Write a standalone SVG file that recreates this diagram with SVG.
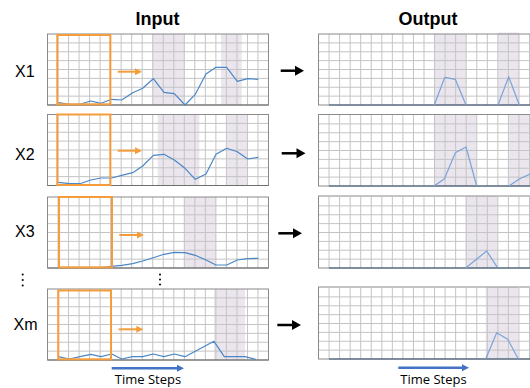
<svg xmlns="http://www.w3.org/2000/svg" width="530" height="388" viewBox="0 0 530 388">
  <style>
    .title { font-family: "Liberation Sans", Arial, sans-serif; font-weight: bold; font-size: 18px; fill: #000; text-anchor: middle; }
    .lbl { font-family: "Liberation Sans", Arial, sans-serif; font-size: 16px; fill: #000; }
    .axis { font-family: "Open Sans", "Liberation Sans", sans-serif; font-size: 13px; fill: #000; text-anchor: middle; }
    .bg { fill: #ffffff; }
    .shade { fill: #ebe5ee; }
    .grid { fill: none; stroke: #c4c4c4; stroke-width: 1; }
    .frame { fill: none; stroke: #8a8a8a; stroke-width: 1; }
    .base { fill: none; stroke: #6e6e6e; stroke-width: 1.2; }
    .seriesIn { fill: none; stroke: #4a87c6; stroke-width: 1.2; stroke-linejoin: round; }
    .seriesOut { fill: none; stroke: #7ba4d8; stroke-width: 1.2; stroke-linejoin: round; }
    .zero { fill: none; stroke: #3a5675; stroke-width: 1; }
    .win { fill: none; stroke: #f59c3b; stroke-width: 2; }
    .slide { stroke: #f59c3b; stroke-width: 2; fill: none; }
    .slideHead { fill: #f59c3b; }
    .flow { stroke: #000; stroke-width: 2.5; fill: none; }
    .flowHead { fill: #000; }
    .time { stroke: #4472c4; stroke-width: 2.5; fill: none; }
    .timeHead { fill: #4472c4; }
  </style>
  <defs>
    <!-- 21 x 8 chart grid, input width -->
    <path id="gridIn" class="grid" d="M10.52 0V71M21.05 0V71M31.57 0V71M42.1 0V71M52.62 0V71M63.14 0V71M73.67 0V71M84.19 0V71M94.71 0V71M105.24 0V71M115.76 0V71M126.29 0V71M136.81 0V71M147.33 0V71M157.86 0V71M168.38 0V71M178.9 0V71M189.43 0V71M199.95 0V71M210.48 0V71M0 8.88H221M0 17.75H221M0 26.63H221M0 35.5H221M0 44.38H221M0 53.25H221M0 62.13H221"/>
    <!-- chart grid, output width (runs past the right edge) -->
    <path id="gridOut" class="grid" d="M10.55 0V71M21.1 0V71M31.65 0V71M42.2 0V71M52.75 0V71M63.3 0V71M73.85 0V71M84.4 0V71M94.95 0V71M105.5 0V71M116.05 0V71M126.6 0V71M137.15 0V71M147.7 0V71M158.25 0V71M168.8 0V71M179.35 0V71M189.9 0V71M200.45 0V71M211 0V71M0 8.88H230M0 17.75H230M0 26.63H230M0 35.5H230M0 44.38H230M0 53.25H230M0 62.13H230"/>
  </defs>

  <rect width="530" height="388" fill="#ffffff"/>

  <text class="title" x="157.5" y="25">Input</text>
  <text class="title" x="428" y="25">Output</text>

  <!-- row labels -->
  <g id="labels">
    <text class="lbl" x="15" y="77">X1</text>
    <text class="lbl" x="15" y="160">X2</text>
    <text class="lbl" x="15" y="237">X3</text>
    <g fill="#000">
      <circle cx="22.7" cy="274.5" r="1"/>
      <circle cx="22.7" cy="280" r="1"/>
      <circle cx="22.7" cy="285.5" r="1"/>
      <circle cx="160" cy="274.5" r="1"/>
      <circle cx="160" cy="279.5" r="1"/>
      <circle cx="160" cy="284.5" r="1"/>
    </g>
    <text class="lbl" x="13.5" y="330">Xm</text>
  </g>

  <!-- input series X1 -->
  <g id="in1">
    <rect class="bg" x="47.5" y="34" width="221" height="71"/>
    <rect class="shade" x="152.3" y="34" width="32" height="71"/>
    <rect class="shade" x="221" y="34" width="20.7" height="71"/>
    <use href="#gridIn" x="47.5" y="34"/>
    <rect class="frame" x="47.5" y="34" width="221" height="71"/>
    <line class="base" x1="47.5" y1="105" x2="268.5" y2="105"/>
    <polyline class="seriesIn" points="58.3,102.7 69.3,104.3 80,104.3 90.7,101 101,103.3 111.7,99.3 121.7,100 132.7,92.7 142.7,88.3 153.3,78.7 164,92.3 174.3,93.7 185,105 195.3,94.3 206,74 216,67.3 226.7,67.3 237.3,81.3 247.7,78.7 258.3,79.3"/>
    <rect class="win" x="57.3" y="35" width="53" height="69.3"/>
  </g>

  <!-- input series X2 -->
  <g id="in2">
    <rect class="bg" x="47.5" y="114.5" width="221" height="71"/>
    <rect class="shade" x="157.7" y="114.5" width="41.6" height="71"/>
    <rect class="shade" x="226.7" y="114.5" width="20.6" height="71"/>
    <use href="#gridIn" x="47.5" y="114.5"/>
    <rect class="frame" x="47.5" y="114.5" width="221" height="71"/>
    <line class="base" x1="47.5" y1="185.5" x2="268.5" y2="185.5"/>
    <polyline class="seriesIn" points="58.3,182.3 69.3,183.7 80,183.7 90.7,180 101,178 111.7,178 121.7,175.3 132.7,172.7 142.7,166 153.3,155.3 164,154.3 174.3,160 185,168.3 195.3,179.3 206,174 216,154.3 226.7,148.3 237.3,151.7 247.7,159 258.3,157.3"/>
    <rect class="win" x="57.3" y="114.5" width="53" height="70.5"/>
  </g>

  <!-- input series X3 -->
  <g id="in3">
    <rect class="bg" x="47.5" y="197" width="221" height="71"/>
    <rect class="shade" x="184.3" y="197" width="31.7" height="71"/>
    <use href="#gridIn" x="47.5" y="197"/>
    <rect class="frame" x="47.5" y="197" width="221" height="71"/>
    <line class="base" x1="47.5" y1="268" x2="268.5" y2="268"/>
    <polyline class="seriesIn" points="58.3,267.5 101,267.5 111.7,266.3 121.7,265.3 132.7,263.7 142.7,261 153.3,257.7 164,254.3 174.3,252.3 185,252.7 195.3,255.3 206,260 216,265 226.7,265 237.3,260 247.7,258.7 258.3,258.3"/>
    <rect class="win" x="59" y="197" width="53" height="70.3"/>
  </g>

  <!-- input series Xm -->
  <g id="inm">
    <rect class="bg" x="47.5" y="289" width="221" height="71"/>
    <rect class="shade" x="214" y="289" width="31" height="71"/>
    <use href="#gridIn" x="47.5" y="289"/>
    <rect class="frame" x="47.5" y="289" width="221" height="71"/>
    <line class="base" x1="47.5" y1="360" x2="268.5" y2="360"/>
    <polyline class="seriesIn" points="58.3,356.7 69.3,359 80,356.7 90.7,354.3 101,356.7 111.7,354 121.7,359 132.7,356.7 142.7,356.7 153.3,354 164,356.7 174.3,354 185,356.7 214,341.3 224.3,356.7 235,356.7 245,356.7 255.7,359.3"/>
    <rect class="win" x="58.3" y="290.5" width="52.7" height="68.8"/>
  </g>

  <!-- output series Y1 -->
  <g id="out1">
    <rect class="bg" x="318.5" y="34" width="230" height="71"/>
    <rect class="shade" x="434.3" y="34" width="31.7" height="71"/>
    <rect class="shade" x="498" y="32.5" width="21.3" height="72.5"/>
    <use href="#gridOut" x="318.5" y="34"/>
    <rect class="frame" x="318.5" y="34" width="230" height="71"/>
    <line class="zero" x1="329" y1="105" x2="530" y2="105"/>
    <polyline class="seriesOut" points="434.3,105 444.8,77.3 455.3,79.3 466,105"/>
    <polyline class="seriesOut" points="498,105 508.7,76.7 519.3,105"/>
  </g>

  <!-- output series Y2 -->
  <g id="out2">
    <rect class="bg" x="318.5" y="114.5" width="230" height="71.5"/>
    <rect class="shade" x="434" y="114.5" width="42.7" height="71.5"/>
    <rect class="shade" x="509" y="114.5" width="30" height="71.5"/>
    <use href="#gridOut" x="318.5" y="115"/>
    <rect class="frame" x="318.5" y="114.5" width="230" height="71.5"/>
    <line class="zero" x1="329" y1="186" x2="530" y2="186"/>
    <polyline class="seriesOut" points="434,186 444.3,179 455.3,152.7 466,147 476.7,186"/>
    <polyline class="seriesOut" points="509,186 519.3,179 530,174"/>
  </g>

  <!-- output series Y3 -->
  <g id="out3">
    <rect class="bg" x="318.5" y="196" width="230" height="72"/>
    <rect class="shade" x="465.7" y="196" width="31.6" height="72"/>
    <use href="#gridOut" x="318.5" y="197"/>
    <rect class="frame" x="318.5" y="196" width="230" height="72"/>
    <line class="zero" x1="329" y1="268" x2="530" y2="268"/>
    <polyline class="seriesOut" points="465.7,268 486.7,251 497.3,267.3"/>
  </g>

  <!-- output series Ym -->
  <g id="outm">
    <rect class="bg" x="318.5" y="287" width="230" height="72"/>
    <rect class="shade" x="485.7" y="287" width="32.6" height="72"/>
    <use href="#gridOut" x="318.5" y="288"/>
    <rect class="frame" x="318.5" y="287" width="230" height="72"/>
    <line class="zero" x1="329" y1="359" x2="530" y2="359"/>
    <polyline class="seriesOut" points="485.7,359 496.7,332.7 507.7,339.3 518.3,359"/>
  </g>

  <!-- connectors: window slide arrows, input-to-output arrows, time axes -->
  <g id="connectors">
    <line class="slide" x1="117.7" y1="71.7" x2="136" y2="71.7"/>
    <polygon class="slideHead" points="142,71.7 135,68.2 135,75.2"/>
    <line class="slide" x1="117.7" y1="150.7" x2="136" y2="150.7"/>
    <polygon class="slideHead" points="142,150.7 135,147.2 135,154.2"/>
    <line class="slide" x1="119.3" y1="235" x2="138" y2="235"/>
    <polygon class="slideHead" points="144,235 137,231.5 137,238.5"/>
    <line class="slide" x1="118.7" y1="329.3" x2="137" y2="329.3"/>
    <polygon class="slideHead" points="143.3,329.3 136.3,325.8 136.3,332.8"/>

    <line class="flow" x1="280.7" y1="70.7" x2="297" y2="70.7"/>
    <polygon class="flowHead" points="304,70.7 295,65.7 295,75.7"/>
    <line class="flow" x1="281.7" y1="153.3" x2="298" y2="153.3"/>
    <polygon class="flowHead" points="305.5,153.3 296.5,148.3 296.5,158.3"/>
    <line class="flow" x1="278.3" y1="233.3" x2="295" y2="233.3"/>
    <polygon class="flowHead" points="302,233.3 293,228.3 293,238.3"/>
    <line class="flow" x1="277.3" y1="325" x2="294" y2="325"/>
    <polygon class="flowHead" points="301,325 292,320 292,330"/>

    <line class="time" x1="111.7" y1="368.3" x2="178" y2="368.3"/>
    <polygon class="timeHead" points="184,368.3 177,364.8 177,371.8"/>
    <line class="time" x1="398.3" y1="367.7" x2="463" y2="367.7"/>
    <polygon class="timeHead" points="469,367.7 462,364.2 462,371.2"/>
  </g>

  <text class="axis" x="148" y="384">Time Steps</text>
  <text class="axis" x="433.5" y="384">Time Steps</text>
</svg>
